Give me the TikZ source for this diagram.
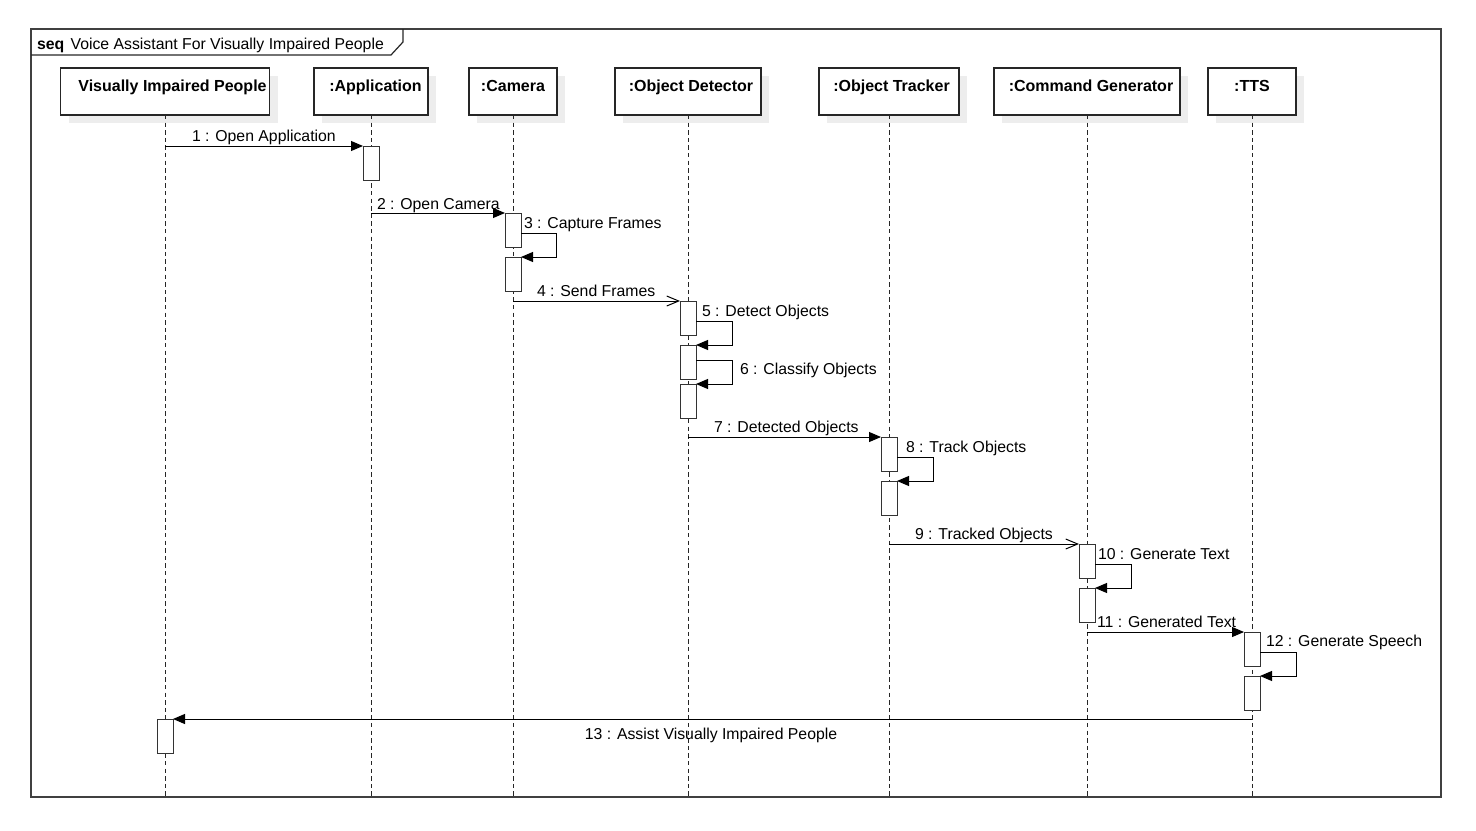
\documentclass[tikz,border=0pt]{standalone}
\usepackage{fontspec}
\setmainfont{Liberation Sans}
\usetikzlibrary{arrows.meta,calc,shadows}
\begin{document}
\begin{tikzpicture}[x=0.5pt,y=-0.5pt,
  font=\fontsize{7.9}{9.5}\selectfont,
  every node/.style={inner sep=0pt,outer sep=0pt},
  header/.style={draw=black!85,line width=0.6pt,fill=white,font=\fontsize{8}{9.6}\selectfont\bfseries,
     minimum height=23.5pt,text height=11.5pt,text depth=12pt,align=center,
     drop shadow={shadow xshift=4pt,shadow yshift=-4pt,fill=black!7,opacity=1}},
  act/.style={draw=black!80,line width=0.5pt,fill=white,minimum width=8pt,minimum height=17pt},
  life/.style={line width=0.5pt,dash pattern=on 2.2pt off 1.6pt,draw=black!85},
  sync/.style={line width=0.5pt,-{Triangle[length=6pt,width=5pt]}},
  async/.style={line width=0.5pt,-{Straight Barb[length=6pt,width=5pt,line width=0.5pt]}},
  lbl/.style={anchor=base west}]
\useasboundingbox (0,0) rectangle (1476,830);
% frame
\draw[line width=0.8pt,draw=black!75] (31,29) rectangle (1441,797);
\draw[line width=0.6pt,draw=black!85] (31,55) -- (391,55) -- (403,42) -- (403,29);
\node[anchor=base west] (title) at (37,49) {\textbf{seq}\hspace{3.2pt}Voice Assistant For Visually Impaired People};
% headers
\node[header,minimum width=104.5pt] (hVIP) at (165,91.5) {\hspace*{7.5pt}Visually Impaired People};
\node[header,minimum width=57pt] (hApp) at (371,91.5) {\hspace*{4.5pt}:Application};
\node[header,minimum width=44pt] (hCam) at (513,91.5) {:Camera};
\node[header,minimum width=73pt] (hOD) at (688,91.5) {\hspace*{3pt}:Object Detector};
\node[header,minimum width=70pt] (hOT) at (889,91.5) {\hspace*{2.5pt}:Object Tracker};
\node[header,minimum width=93pt] (hCG) at (1087,91.5) {\hspace*{4pt}:Command Generator};
\node[header,minimum width=44pt] (hTTS) at (1252,91.5) {:TTS};
% lifeline ends
\coordinate (eVIP) at (165,797);
\coordinate (eApp) at (371,797);
\coordinate (eCam) at (513,797);
\coordinate (eOD) at (688,797);
\coordinate (eOT) at (889,797);
\coordinate (eCG) at (1087,797);
\coordinate (eTTS) at (1252,797);
\foreach \n in {VIP,App,Cam,OD,OT,CG,TTS}{\draw[life] (h\n.south) -- (e\n);}
% activations
\node[act] (aApp) at (371,163) {};
\node[act] (aCam1) at (513,230) {};
\node[act] (aCam2) at (513,274) {};
\node[act] (aOD1) at (688,318) {};
\node[act] (aOD2) at (688,362) {};
\node[act] (aOD3) at (688,401) {};
\node[act] (aOT1) at (889,454) {};
\node[act] (aOT2) at (889,498) {};
\node[act] (aCG1) at (1087,561) {};
\node[act] (aCG2) at (1087,605) {};
\node[act] (aTTS1) at (1252,649) {};
\node[act] (aTTS2) at (1252,693) {};
\node[act] (aVIP) at (165,736) {};
% messages
\draw[sync] (hVIP.south |- aApp.north) -- (aApp.north west);
\node[lbl] (m1) at (192,141) {1 : Open Application};
\draw[sync] (hApp.south |- aCam1.north) -- (aCam1.north west);
\node[lbl] (m2) at (377,209) {2 : Open Camera};
\draw[sync] ($(aCam1.north east)+(0,20)$) -- ++(35,0) |- (aCam2.north east);
\node[lbl] (m3) at (524,228) {3 : Capture Frames};
\draw[async] (hCam.south |- aOD1.north) -- (aOD1.north west);
\node[lbl] (m4) at (537,296) {4 : Send Frames};
\draw[sync] ($(aOD1.north east)+(0,20)$) -- ++(36,0) |- (aOD2.north east);
\node[lbl] (m5) at (702,316) {5 : Detect Objects};
\draw[sync] ($(aOD2.north east)+(0,15)$) -- ++(36,0) |- (aOD3.north east);
\node[lbl] (m6) at (740,374) {6 : Classify Objects};
\draw[sync] (hOD.south |- aOT1.north) -- (aOT1.north west);
\node[lbl] (m7) at (714,432) {7 : Detected Objects};
\draw[sync] ($(aOT1.north east)+(0,20)$) -- ++(36,0) |- (aOT2.north east);
\node[lbl] (m8) at (906,452) {8 : Track Objects};
\draw[async] (hOT.south |- aCG1.north) -- (aCG1.north west);
\node[lbl] (m9) at (915,539) {9 : Tracked Objects};
\draw[sync] ($(aCG1.north east)+(0,20)$) -- ++(36,0) |- (aCG2.north east);
\node[lbl] (m10) at (1098,559) {10 : Generate Text};
\draw[sync] (hCG.south |- aTTS1.north) -- (aTTS1.north west);
\node[lbl] (m11) at (1097,627) {11 : Generated Text};
\draw[sync] ($(aTTS1.north east)+(0,20)$) -- ++(36,0) |- (aTTS2.north east);
\node[lbl] (m12) at (1266,646) {12 : Generate Speech};
\draw[sync] (hTTS.south |- aVIP.north) -- (aVIP.north east);
\node[anchor=base] (m13) at (711,739) {13 : Assist Visually Impaired People};
\end{tikzpicture}
\end{document}
